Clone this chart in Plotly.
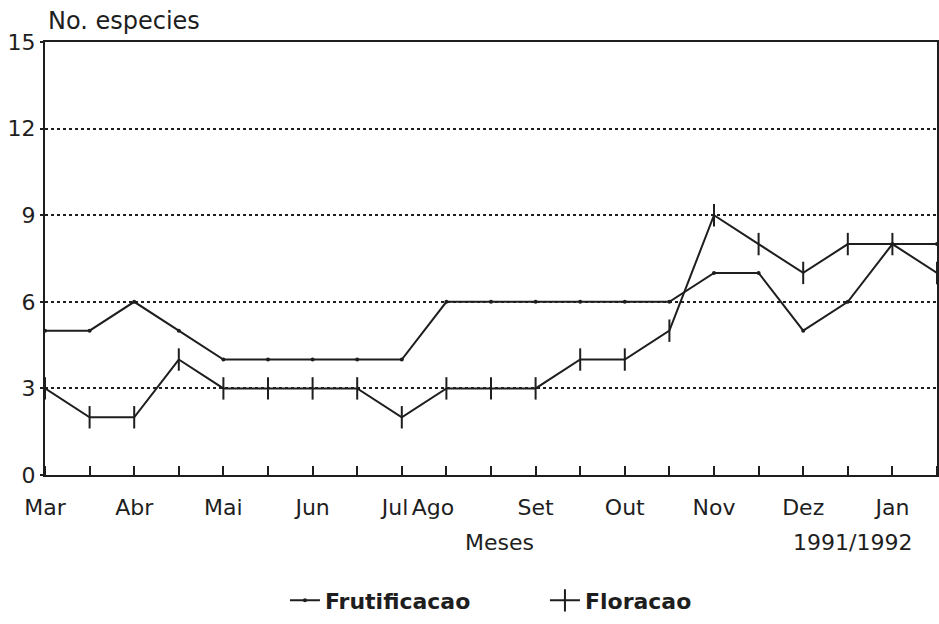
import plotly.graph_objects as go

# Data (biweekly observations, Mar 1991 - Jan 1992)
obs_index = list(range(21))
frutificacao = [5, 5, 6, 5, 4, 4, 4, 4, 4, 6, 6, 6, 6, 6, 6, 7, 7, 5, 6, 8, 8]
floracao = [3, 2, 2, 4, 3, 3, 3, 3, 2, 3, 3, 3, 4, 4, 5, 9, 8, 7, 8, 8, 7]
month_labels = ["Mar", "Abr", "Mai", "Jun", "Jul", "Ago", "Set", "Out", "Nov", "Dez", "Jan"]
month_pos = [0, 2, 4, 6, 7.85, 8.7, 11, 13, 15, 17, 19]
y_ticks = [0, 3, 6, 9, 12, 15]

INK = "#1e1e1e"
FONT = "DejaVu Sans, Liberation Sans, Arial, sans-serif"

fig = go.Figure()
fig.add_trace(go.Scatter(
    x=obs_index, y=frutificacao, name="Frutificacao", mode="lines+markers",
    line=dict(color=INK, width=2),
    marker=dict(symbol="circle", size=4, color=INK),
))
fig.add_trace(go.Scatter(
    x=obs_index, y=floracao, name="Floracao", mode="lines+markers",
    line=dict(color=INK, width=2),
    marker=dict(symbol="line-ns", size=16, line=dict(color=INK, width=2)),
))

fig.update_layout(
    width=939, height=624,
    margin=dict(l=45, r=2, t=42, b=139),
    paper_bgcolor="white", plot_bgcolor="white",
    font=dict(family=FONT, color=INK, size=22),
    showlegend=True,
    legend=dict(orientation="h", x=0.269, xanchor="left", y=-0.29, yanchor="middle",
                entrywidth=215, entrywidthmode="pixels",
                font=dict(size=22, family=FONT, weight="bold"),
                bgcolor="rgba(0,0,0,0)", traceorder="normal"),
    xaxis=dict(
        range=[0, 20], showgrid=False, zeroline=False, automargin=False,
        showline=True, linecolor=INK, linewidth=2, mirror=True,
        tickmode="array", tickvals=month_pos, ticktext=month_labels,
        ticks="", ticklabelstandoff=12, tickfont=dict(size=22),
        minor=dict(tick0=0, dtick=1, ticks="inside", ticklen=9, tickwidth=2, tickcolor=INK, showgrid=False),
    ),
    yaxis=dict(
        range=[0, 15], zeroline=False, automargin=False,
        showline=True, linecolor=INK, linewidth=2, mirror=True,
        tickmode="array", tickvals=y_ticks,
        ticks="outside", ticklen=3, tickcolor=INK, tickwidth=2,
        tickfont=dict(size=22),
        showgrid=True, gridcolor=INK, gridwidth=2, griddash="dot",
    ),
    annotations=[
        dict(text="No. especies", xref="paper", yref="paper", x=0, y=1,
             xanchor="left", yanchor="bottom", xshift=1, yshift=5,
             showarrow=False, font=dict(size=24)),
        dict(text="Meses", xref="paper", yref="paper", x=0.51, y=-0.155,
             xanchor="center", yanchor="middle", showarrow=False, font=dict(size=22)),
        dict(text="1991/1992", xref="paper", yref="paper", x=0.905, y=-0.155,
             xanchor="center", yanchor="middle", showarrow=False, font=dict(size=22)),
    ],
)

fig.write_html("out.html", config={"displayModeBar": False},
               post_script="document.body.style.margin='0';document.body.style.overflow='hidden';")
